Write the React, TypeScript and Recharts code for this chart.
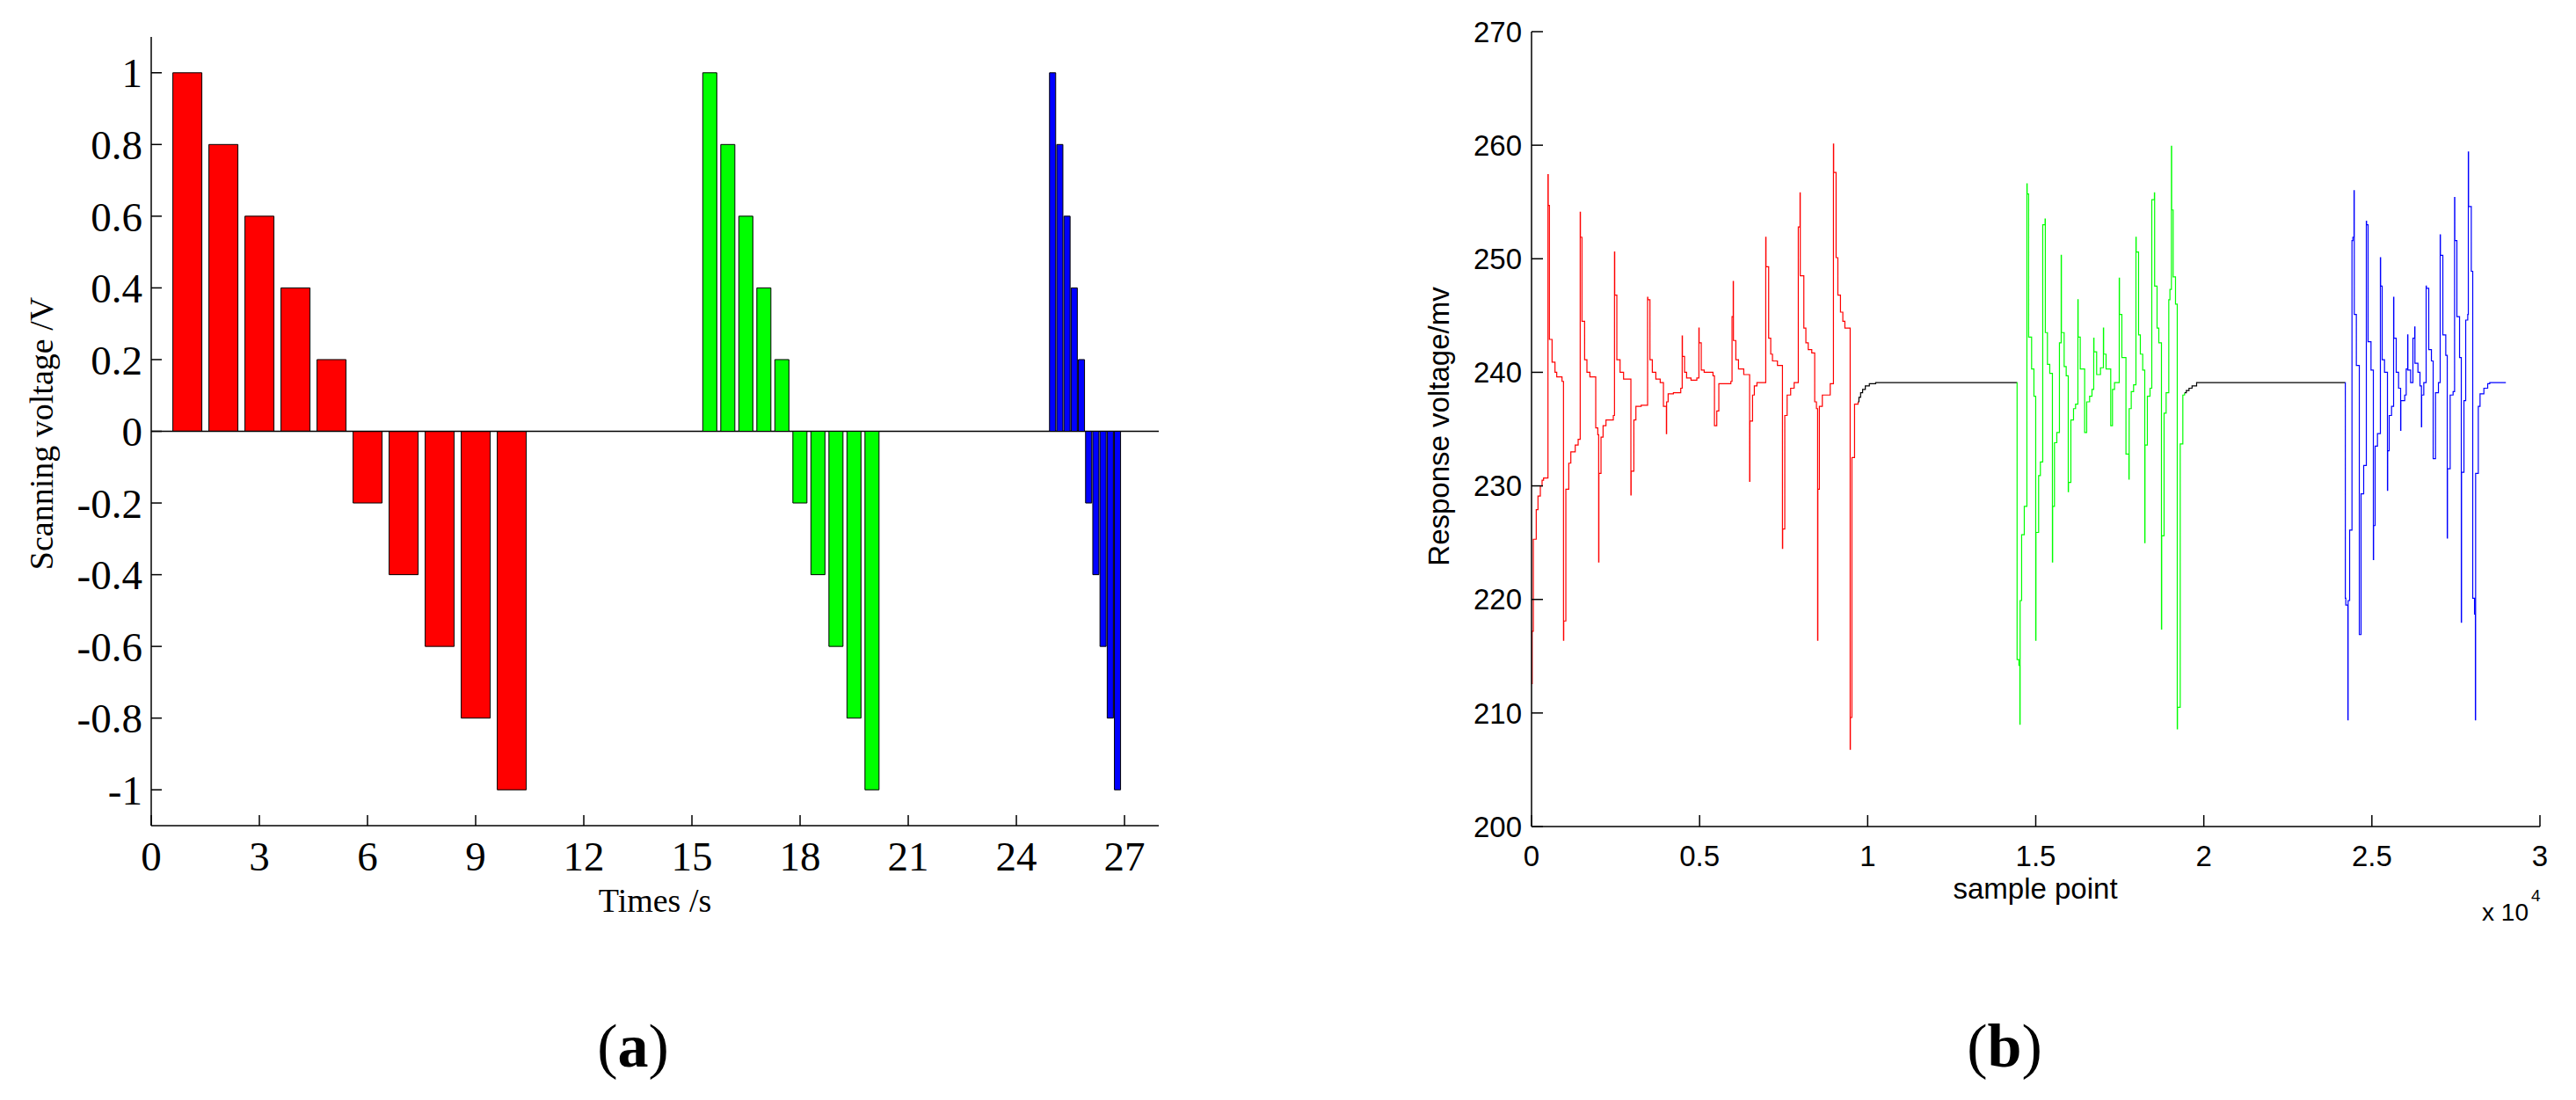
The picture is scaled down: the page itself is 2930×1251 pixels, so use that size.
import { BarChart, Bar, LineChart, Line, XAxis, YAxis, ReferenceLine } from "recharts";

const SERIF = '"Liberation Serif", "Times New Roman", serif';
const SANS = '"Liberation Sans", Arial, sans-serif';

// (a) scanning voltage: ten steps per scan, three scans at different rates
const stepVoltages = [1, 0.8, 0.6, 0.4, 0.2, -0.2, -0.4, -0.6, -0.8, -1];
const redTimes = [1, 2, 3, 4, 5, 6, 7, 8, 9, 10];
const greenTimes = [15.5, 16, 16.5, 17, 17.5, 18, 18.5, 19, 19.5, 20];
const blueTimes = [25, 25.2, 25.4, 25.6, 25.8, 26, 26.2, 26.4, 26.6, 26.8];
const timeTicks = [0, 3, 6, 9, 12, 15, 18, 21, 24, 27];
const voltageTicks = [-1, -0.8, -0.6, -0.4, -0.2, 0, 0.2, 0.4, 0.6, 0.8, 1];

// (b) response voltage, [sample point, mV] breakpoints (step plot)
const redTrace = [
  [0, 212.6], [20, 217.2], [53, 225.3], [140, 227.9], [192, 229.1], [262, 230.0], [314, 230.5], [358, 230.7],
  [489, 257.4], [497, 254.7], [532, 242.9], [611, 240.9], [698, 240.0], [750, 239.6], [907, 239.2],
  [951, 216.4], [958, 218.1], [1021, 229.7], [1108, 232.0], [1169, 233.0], [1300, 233.6], [1387, 234.1],
  [1448, 254.1], [1455, 251.9], [1500, 244.5], [1579, 241.1], [1648, 240.0], [1736, 239.6], [1910, 235.1],
  [1971, 234.5], [1997, 223.3], [2004, 231.1], [2067, 234.3], [2128, 235.3], [2215, 235.8], [2433, 236.2],
  [2468, 250.6], [2475, 246.8], [2538, 241.1], [2634, 240.0], [2738, 239.4], [2956, 229.2], [2963, 231.3],
  [3044, 235.8], [3105, 237.0], [3262, 237.1], [3453, 246.6], [3460, 246.4], [3523, 241.1], [3593, 240.0],
  [3698, 239.4], [3828, 239.1], [3924, 237.0], [4012, 234.6], [4019, 237.4], [4064, 238.1], [4221, 238.2],
  [4439, 238.6], [4482, 243.2], [4489, 241.4], [4552, 240.0], [4613, 239.5], [4744, 239.3], [4918, 239.5],
  [4979, 243.9], [4986, 242.6], [5049, 240.2], [5136, 240.0], [5398, 239.7], [5442, 235.3], [5511, 236.6],
  [5572, 239.0], [5930, 239.2], [5965, 244.9], [6000, 248.0], [6007, 242.8], [6078, 241.1], [6157, 240.3],
  [6314, 239.8], [6488, 230.4], [6495, 235.7], [6575, 238.0], [6628, 238.8], [6706, 239.1], [6968, 251.9],
  [6975, 249.3], [7055, 243.0], [7116, 241.6], [7168, 241.0], [7316, 240.6], [7465, 224.5], [7472, 226.2],
  [7534, 236.2], [7604, 238.0], [7709, 238.6], [7813, 239.1], [7936, 252.8], [7988, 255.8], [7995, 248.5],
  [8101, 243.9], [8162, 242.6], [8232, 242.0], [8337, 241.7], [8424, 237.4], [8476, 236.8], [8511, 216.4],
  [8518, 229.7], [8563, 237.0], [8651, 238.0], [8886, 239.0], [8982, 260.1], [8989, 257.6], [9060, 250.1],
  [9113, 246.8], [9191, 245.3], [9261, 244.5], [9322, 243.9], [9479, 206.8], [9486, 209.6], [9531, 232.5],
  [9610, 237.2], [9714, 237.4],
];
const idleTrace1 = [
  [9714, 237.4], [9740, 237.8], [9790, 238.2], [9850, 238.5], [9930, 238.8], [10050, 239.0], [10238, 239.1],
  [14441, 239.1],
];
const greenTrace = [
  [14441, 239.1], [14445, 214.7], [14500, 214.2], [14528, 209.0], [14535, 219.9], [14580, 225.7], [14659, 228.2],
  [14737, 256.6], [14745, 255.7], [14789, 243.1], [14877, 240.3], [14946, 237.9], [14999, 216.4], [15006, 225.9],
  [15086, 230.9], [15138, 232.1], [15208, 253.0], [15278, 253.5], [15285, 243.5], [15348, 240.7], [15417, 239.9],
  [15496, 223.3], [15503, 228.2], [15557, 233.8], [15627, 234.7], [15705, 242.6], [15757, 250.3], [15764, 243.5],
  [15845, 240.5], [15906, 239.7], [15967, 229.5], [15974, 230.3], [16045, 235.8], [16124, 236.8], [16185, 237.2],
  [16254, 246.4], [16261, 243.1], [16324, 240.3], [16455, 234.7], [16516, 237.4], [16603, 237.9], [16673, 238.5],
  [16725, 243.0], [16732, 241.8], [16812, 239.8], [16926, 240.4], [17013, 243.9], [17020, 241.6], [17092, 240.3],
  [17231, 235.3], [17283, 238.5], [17344, 239.1], [17484, 248.3], [17491, 245.1], [17562, 241.3], [17684, 232.8],
  [17772, 230.6], [17779, 236.8], [17841, 238.3], [17911, 238.9], [17981, 251.9], [17988, 250.6], [18059, 243.3],
  [18112, 241.6], [18182, 240.2], [18243, 225.0], [18250, 233.6], [18321, 237.9], [18400, 238.6], [18452, 255.2],
  [18530, 255.8], [18537, 247.6], [18609, 243.9], [18661, 242.6], [18740, 217.4], [18747, 225.6], [18818, 236.4],
  [18879, 238.2], [18958, 246.4], [18992, 247.3], [19036, 259.9], [19043, 254.3], [19088, 248.4], [19158, 246.0],
  [19210, 208.6], [19217, 210.5], [19298, 233.7], [19376, 238.0], [19428, 238.2],
];
const idleTrace2 = [
  [19428, 238.2], [19480, 238.4], [19560, 238.6], [19650, 238.8], [19786, 239.1], [24207, 239.1],
];
const blueTrace = [
  [24207, 239.1], [24210, 220.1], [24224, 219.5], [24286, 209.4], [24293, 219.9], [24338, 226.1], [24408, 251.6],
  [24434, 251.9], [24469, 256.0], [24476, 245.1], [24538, 240.6], [24626, 216.9], [24678, 229.3], [24756, 231.8],
  [24835, 253.3], [24842, 253.0], [24887, 242.7], [24974, 240.2], [25044, 223.5], [25051, 226.5], [25096, 233.5],
  [25166, 234.6], [25253, 250.1], [25260, 247.6], [25306, 241.1], [25376, 240.0], [25463, 229.6], [25470, 233.1],
  [25515, 236.2], [25585, 237.0], [25646, 246.6], [25653, 243.0], [25724, 240.0], [25794, 238.6], [25855, 234.9],
  [25862, 237.5], [25977, 238.0], [26021, 240.3], [26064, 243.3], [26071, 240.2], [26152, 239.1], [26221, 243.0],
  [26274, 244.0], [26281, 240.8], [26370, 240.0], [26431, 238.8], [26474, 235.2], [26481, 238.0], [26544, 239.1],
  [26614, 247.6], [26621, 247.4], [26692, 242.0], [26771, 241.0], [26823, 232.4], [26893, 238.2], [26980, 239.1],
  [27032, 252.1], [27039, 250.3], [27111, 243.3], [27198, 241.5], [27242, 225.4], [27249, 231.5], [27329, 238.0],
  [27416, 238.3], [27460, 255.4], [27467, 251.6], [27529, 244.9], [27608, 241.3], [27660, 218.0], [27667, 231.2],
  [27739, 237.5], [27791, 244.6], [27852, 245.1], [27869, 259.4], [27876, 254.6], [27957, 248.9], [28000, 220.1],
  [28053, 218.7], [28079, 209.4], [28086, 231.1], [28166, 237.0], [28218, 238.1], [28332, 238.6], [28445, 239.0],
  [28506, 239.1], [28986, 239.1],
];
const sampleTicks = [0, 5000, 10000, 15000, 20000, 25000, 30000];
const responseTicks = [200, 210, 220, 230, 240, 250, 260, 270];

const toBars = (times: number[]) => times.map((t, i) => ({ t, v: stepVoltages[i] }));
const toPoints = (trace: number[][]) => trace.map(([x, y]) => ({ x, y }));

// panel (a) geometry
const A_W = 1400;
const A_H = 1100;
const A_MARGIN = { top: 42, right: 82, bottom: 61, left: 72 };
const A_YAXIS_W = 100;
const A_XAXIS_H = 100;
const TIME_DOMAIN: [number, number] = [0, 27.95];
const VOLT_DOMAIN: [number, number] = [-1.1, 1.1];

const black = { stroke: "#000", strokeWidth: 1.5 };
const serifTick = { fontSize: 47, fontFamily: SERIF, fill: "#000" };
const sansTick = { fontSize: 33, fontFamily: SANS, fill: "#000" };

function VoltagePanel({ times, fill, axes }: { times: number[]; fill: string; axes: boolean }) {
  // overlay panels hide their axes, so the margins take over the axis space
  const margin = axes
    ? A_MARGIN
    : {
        top: A_MARGIN.top,
        right: A_MARGIN.right,
        bottom: A_MARGIN.bottom + A_XAXIS_H,
        left: A_MARGIN.left + A_YAXIS_W,
      };
  return (
    <BarChart width={A_W} height={A_H} data={toBars(times)} margin={margin} barCategoryGap="10%">
      <XAxis
        xAxisId="b"
        dataKey="t"
        type="number"
        domain={TIME_DOMAIN}
        ticks={timeTicks}
        interval={0}
        allowDataOverflow
        hide={!axes}
        height={A_XAXIS_H}
        tickSize={-12}
        tickMargin={30}
        tick={serifTick}
        axisLine={black}
        tickLine={black}
      />
      {axes && (
        <XAxis
          xAxisId="t"
          orientation="top"
          dataKey="t"
          type="number"
          domain={TIME_DOMAIN}
          ticks={timeTicks}
          interval={0}
          allowDataOverflow
          height={0}
          tickSize={-12}
          tick={false}
          axisLine={black}
          tickLine={black}
        />
      )}
      <YAxis
        yAxisId="l"
        type="number"
        domain={VOLT_DOMAIN}
        ticks={voltageTicks}
        interval={0}
        allowDataOverflow
        hide={!axes}
        width={A_YAXIS_W}
        tickSize={-12}
        tickMargin={22}
        tick={serifTick}
        axisLine={black}
        tickLine={black}
      />
      {axes && (
        <YAxis
          yAxisId="r"
          orientation="right"
          type="number"
          domain={VOLT_DOMAIN}
          ticks={voltageTicks}
          interval={0}
          allowDataOverflow
          width={0}
          tickSize={-12}
          tick={false}
          axisLine={black}
          tickLine={black}
        />
      )}
      {axes && <ReferenceLine xAxisId="b" yAxisId="l" y={0} stroke="#000" strokeWidth={1.5} />}
      <Bar
        xAxisId="b"
        yAxisId="l"
        dataKey="v"
        fill={fill}
        stroke="#000"
        strokeWidth={1}
        isAnimationActive={false}
      />
    </BarChart>
  );
}

const traces: { data: number[][]; color: string }[] = [
  { data: redTrace, color: "#ff0000" },
  { data: idleTrace1, color: "#000000" },
  { data: greenTrace, color: "#00ff00" },
  { data: idleTrace2, color: "#000000" },
  { data: blueTrace, color: "#0000ff" },
];

function ResponsePanel() {
  return (
    <LineChart width={1330} height={1100} margin={{ top: 36, right: 41, bottom: 60, left: 42 }}>
      <XAxis
        xAxisId="b"
        dataKey="x"
        type="number"
        domain={[0, 30000]}
        ticks={sampleTicks}
        interval={0}
        allowDataOverflow
        height={100}
        tickSize={-13}
        tickMargin={35}
        tick={sansTick}
        tickFormatter={(v: number) => String(v / 10000)}
        axisLine={black}
        tickLine={black}
      />
      <XAxis
        xAxisId="t"
        orientation="top"
        dataKey="x"
        type="number"
        domain={[0, 30000]}
        ticks={sampleTicks}
        interval={0}
        allowDataOverflow
        height={0}
        tickSize={-13}
        tick={false}
        axisLine={black}
        tickLine={black}
      />
      <YAxis
        yAxisId="l"
        type="number"
        domain={[200, 270]}
        ticks={responseTicks}
        interval={0}
        allowDataOverflow
        width={100}
        tickSize={-13}
        tickMargin={24}
        tick={sansTick}
        axisLine={black}
        tickLine={black}
      />
      <YAxis
        yAxisId="r"
        orientation="right"
        type="number"
        domain={[200, 270]}
        ticks={responseTicks}
        interval={0}
        allowDataOverflow
        width={0}
        tickSize={-13}
        tick={false}
        axisLine={black}
        tickLine={black}
      />
      {traces.map((tr, i) => (
        <Line
          key={i}
          xAxisId="b"
          yAxisId="l"
          data={toPoints(tr.data)}
          dataKey="y"
          type="stepAfter"
          stroke={tr.color}
          strokeWidth={1.2}
          dot={false}
          isAnimationActive={false}
        />
      ))}
    </LineChart>
  );
}

export default function App() {
  return (
    <div style={{ position: "absolute", left: 0, top: 0, width: 2930, height: 1251, background: "#fff" }}>
      <svg width={2930} height={1251} style={{ position: "absolute", left: 0, top: 0 }}>
        <text x={60} y={493} transform="rotate(-90 60 493)" textAnchor="middle" fontFamily={SERIF} fontSize={38}>
          Scanning voltage /V
        </text>
        <text x={745} y={1037} textAnchor="middle" fontFamily={SERIF} fontSize={38}>
          Times /s
        </text>
        <text x={1648} y={485} transform="rotate(-90 1648 485)" textAnchor="middle" fontFamily={SANS} fontSize={33}>
          Response voltage/mv
        </text>
        <text x={2315} y={1022} textAnchor="middle" fontFamily={SANS} fontSize={33}>
          sample point
        </text>
        <text x={2876} y={1047} textAnchor="end" fontFamily={SANS} fontSize={28}>
          x 10
        </text>
        <text x={2879} y={1025} fontFamily={SANS} fontSize={19}>
          4
        </text>
        <text x={720} y={1213} textAnchor="middle" fontFamily={SERIF} fontSize={70}>
          (<tspan fontWeight="bold">a</tspan>)
        </text>
        <text x={2280} y={1213} textAnchor="middle" fontFamily={SERIF} fontSize={70}>
          (<tspan fontWeight="bold">b</tspan>)
        </text>
      </svg>
      <div style={{ position: "absolute", left: 0, top: 0 }}>
        <VoltagePanel times={redTimes} fill="#ff0000" axes />
      </div>
      <div style={{ position: "absolute", left: 0, top: 0 }}>
        <VoltagePanel times={greenTimes} fill="#00ff00" axes={false} />
      </div>
      <div style={{ position: "absolute", left: 0, top: 0 }}>
        <VoltagePanel times={blueTimes} fill="#0000ff" axes={false} />
      </div>
      <div style={{ position: "absolute", left: 1600, top: 0 }}>
        <ResponsePanel />
      </div>
    </div>
  );
}
